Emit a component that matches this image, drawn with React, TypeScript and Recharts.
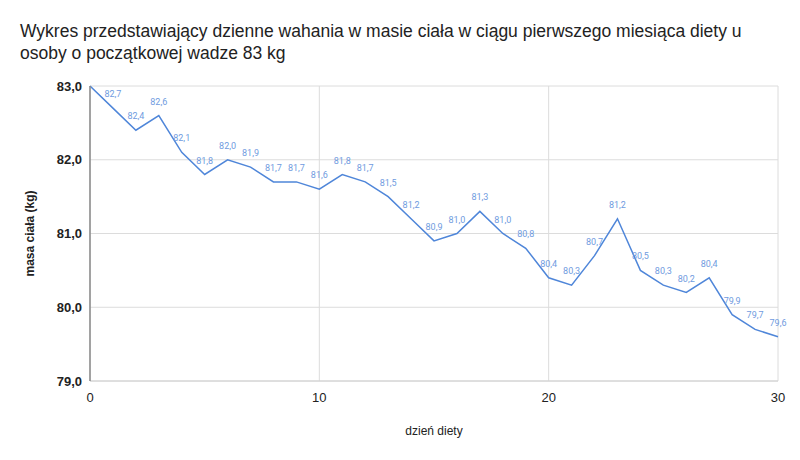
import { LineChart, Line, XAxis, YAxis, CartesianGrid, LabelList, Label } from "recharts";

const days = [0, 1, 2, 3, 4, 5, 6, 7, 8, 9, 10, 11, 12, 13, 14, 15, 16, 17, 18, 19, 20, 21, 22, 23, 24, 25, 26, 27, 28, 29, 30];
const weights = [
  83.0, 82.7, 82.4, 82.6, 82.1, 81.8, 82.0, 81.9, 81.7, 81.7, 81.6, 81.8, 81.7, 81.5, 81.2, 80.9,
  81.0, 81.3, 81.0, 80.8, 80.4, 80.3, 80.7, 81.2, 80.5, 80.3, 80.2, 80.4, 79.9, 79.7, 79.6,
];
const xTicks = [0, 10, 20, 30];
const yTicks = [79, 80, 81, 82, 83];

const data = days.map((d, i) => ({ day: d, weight: weights[i] }));

const fmt = (v: number) => v.toFixed(1).replace(".", ",");

// point labels, the first point has none
const PointLabel = (props: any) => {
  const { x, y, value, index } = props;
  if (index === 0) return null;
  return (
    <text x={x} y={y - 11} textAnchor="middle" fontSize={9} fill="#6f9be0" fontFamily="Roboto, sans-serif">
      {fmt(value)}
    </text>
  );
};

export default function App() {
  return (
    <div style={{ position: "absolute", left: 0, top: 0, width: 800, height: 460, background: "#fff", fontFamily: "'Liberation Sans', Arial, sans-serif" }}>
      <div style={{ position: "absolute", left: 20, top: 20, fontSize: 17.5, lineHeight: "22px", color: "#222" }}>
        Wykres przedstawiający dzienne wahania w masie ciała w ciągu pierwszego miesiąca diety u
        <br />
        osoby o początkowej wadze 83 kg
      </div>
      <LineChart width={800} height={460} data={data} margin={{ top: 86, right: 22, bottom: 49, left: 30 }}>
        <CartesianGrid stroke="#dcdcdc" />
        <XAxis
          dataKey="day"
          type="number"
          domain={[0, 30]}
          ticks={xTicks}
          tickLine={false}
          axisLine={{ stroke: "#d0d0d0" }}
          tick={{ fontSize: 13, fill: "#222" }}
          tickMargin={6}
          height={30}
        >
          <Label value="dzień diety" position="bottom" offset={15} fontSize={12} fill="#222" />
        </XAxis>
        <YAxis
          type="number"
          domain={[79, 83]}
          ticks={yTicks}
          tickFormatter={fmt}
          tickLine={false}
          axisLine={{ stroke: "#888", strokeWidth: 1.5 }}
          tick={{ fontSize: 13, fill: "#222", fontWeight: 600 }}
          width={60}
        >
          <Label value="masa ciała (kg)" angle={-90} position="insideLeft" offset={0} fontSize={12} fill="#222" fontWeight={600} style={{ textAnchor: "middle" }} />
        </YAxis>
        <Line type="linear" dataKey="weight" stroke="#4f86d9" strokeWidth={1.5} dot={false} isAnimationActive={false}>
          <LabelList dataKey="weight" content={PointLabel} />
        </Line>
      </LineChart>
    </div>
  );
}
